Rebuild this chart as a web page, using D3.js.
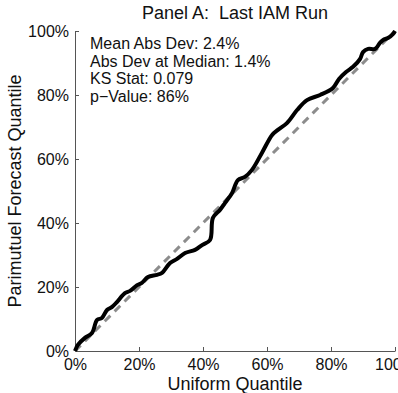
<!DOCTYPE html>
<html>
<head>
<meta charset="utf-8">
<script src="https://cdn.jsdelivr.net/npm/d3@7"></script>
<style>
  body { margin: 0; background: #fff; }
  svg { font-family: "Liberation Sans", Arial, sans-serif; }
</style>
</head>
<body>
<div id="chart"></div>
<script>
// uniform quantile (x) vs parimutuel forecast quantile (y), in percent
var uniformQ = [0, 0.9, 3.1, 5.3, 6.9, 8.4, 10, 11.6, 13.1, 15.6, 17.2, 19.4, 20.9, 22.8, 25.6, 27.2, 29.7, 31.9,
  34.4, 37.5, 39.7, 42.2, 43.1, 45.3, 46.9, 49.1, 50.9, 53.1, 55.3, 58.4, 61.6, 63.4, 66.3, 69.4, 72.5, 76.6,
  80.6, 82.5, 84.7, 86.9, 89.1, 90, 91.6, 93.8, 95.3, 96.3, 97.8, 99.4, 100];
var forecastQ = [0, 1.9, 4.1, 5.6, 9.7, 10.3, 12.8, 13.8, 15.3, 18.1, 18.8, 20.6, 21.3, 23.1, 23.8, 24.4, 27.5, 28.8,
  30.6, 31.6, 33.1, 34.7, 41.6, 44.1, 46.3, 49.4, 53.4, 54.4, 56.6, 61.9, 67.5, 69.1, 71.3, 75.3, 78.4, 80,
  82.2, 85, 87.2, 88.8, 91.3, 93.4, 94.4, 94.4, 96.3, 97.2, 97.8, 99.1, 100];
var tickValues = [0, 20, 40, 60, 80, 100];
var statLines = ["Mean Abs Dev: 2.4%", "Abs Dev at Median: 1.4%", "KS Stat: 0.079", "p\u2212Value: 86%"];

var width = 398, height = 393;
var margin = { top: 31, right: 3, bottom: 42, left: 75 };

var svg = d3.select("#chart").append("svg").attr("width", width).attr("height", height);

var xScale = d3.scaleLinear().domain([0, 100]).range([margin.left, width - margin.right]);
var yScale = d3.scaleLinear().domain([0, 100]).range([height - margin.bottom, margin.top]);

var axisx = d3.axisBottom(xScale).tickValues(tickValues).tickSizeInner(-4).tickSizeOuter(0)
  .tickPadding(8).tickFormat(d => d + "%");
var axisy = d3.axisLeft(yScale).tickValues(tickValues).tickSizeInner(-4).tickSizeOuter(0)
  .tickPadding(6).tickFormat(d => d + "%");

var gx = svg.append("g")
  .attr("transform", "translate(0," + (height - margin.bottom) + ")")
  .call(axisx);
var gy = svg.append("g")
  .attr("transform", "translate(" + margin.left + ",0)")
  .call(axisy);

[gx, gy].forEach(function(g) {
  g.select(".domain").attr("stroke", "#555").attr("stroke-width", 1);
  g.selectAll(".tick line").attr("stroke", "#555");
  g.selectAll(".tick text").attr("fill", "#111").style("font-size", "16px");
});

// 45 degree reference line
svg.append("line")
  .attr("x1", xScale(0)).attr("y1", yScale(0))
  .attr("x2", xScale(100)).attr("y2", yScale(100))
  .attr("stroke", "#8c8c8c")
  .attr("stroke-width", 3)
  .attr("stroke-dasharray", "8,6");

var pts = uniformQ.map((u, i) => [u, forecastQ[i]]);
var line = d3.line().x(d => xScale(d[0])).y(d => yScale(d[1])).curve(d3.curveCatmullRom.alpha(0.5));

svg.append("path")
  .datum(pts)
  .attr("d", line)
  .attr("fill", "none")
  .attr("stroke", "#000")
  .attr("stroke-width", 4)
  .attr("stroke-linejoin", "round");

svg.append("text")
  .attr("x", (margin.left + width - margin.right) / 2)
  .attr("y", 19)
  .attr("text-anchor", "middle")
  .attr("fill", "#111")
  .style("font-size", "18px")
  .style("white-space", "pre")
  .text("Panel A:  Last IAM Run");

svg.append("text")
  .attr("x", (margin.left + width - margin.right) / 2)
  .attr("y", 390)
  .attr("text-anchor", "middle")
  .attr("fill", "#111")
  .style("font-size", "18px")
  .text("Uniform Quantile");

svg.append("text")
  .attr("transform", "rotate(-90)")
  .attr("x", -(height - margin.top - margin.bottom) / 2 - margin.top)
  .attr("y", 21)
  .attr("text-anchor", "middle")
  .attr("fill", "#111")
  .style("font-size", "18px")
  .text("Parimutuel Forecast Quantile");

svg.append("g").selectAll("text")
  .data(statLines)
  .enter()
  .append("text")
  .attr("x", 90)
  .attr("y", (d, i) => 49 + i * 17.5)
  .attr("fill", "#111")
  .style("font-size", "16px")
  .text(d => d);
</script>
</body>
</html>
